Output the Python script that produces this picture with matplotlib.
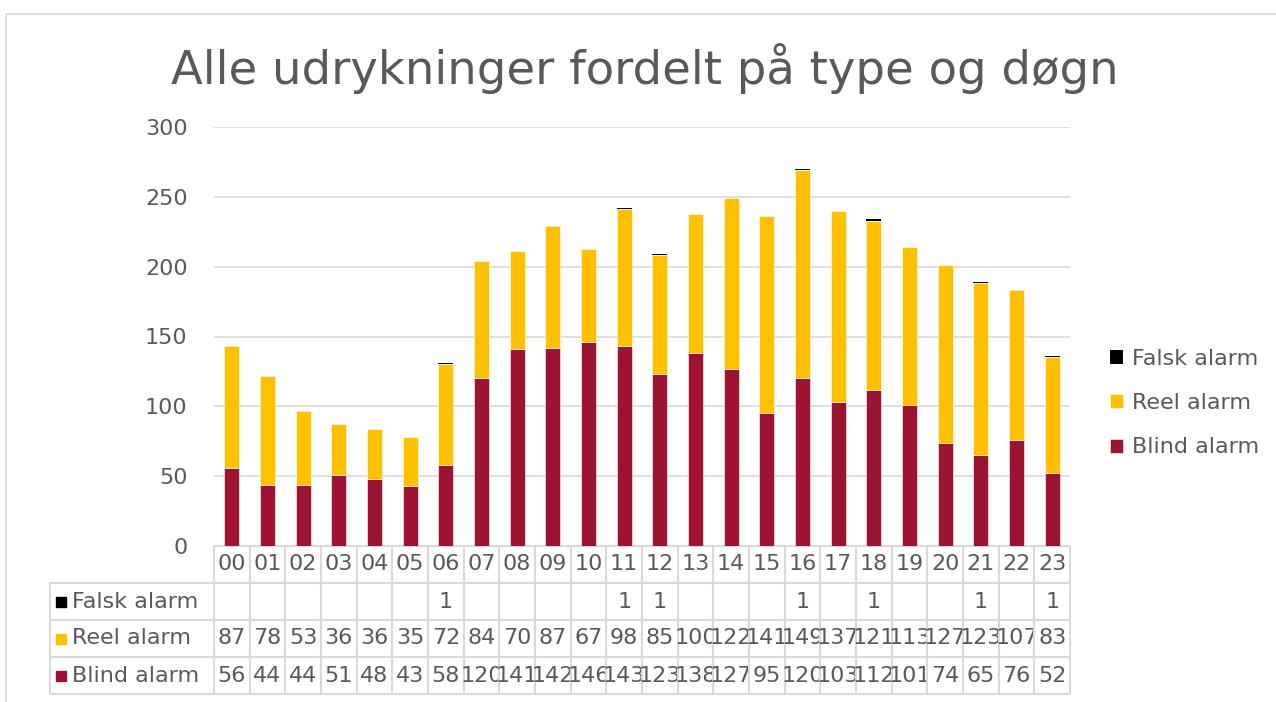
import numpy as np
import matplotlib.pyplot as plt
from matplotlib.patches import Rectangle

# data
hours = ["00", "01", "02", "03", "04", "05", "06", "07", "08", "09", "10", "11",
         "12", "13", "14", "15", "16", "17", "18", "19", "20", "21", "22", "23"]
blind = [56, 44, 44, 51, 48, 43, 58, 120, 141, 142, 146, 143,
         123, 138, 127, 95, 120, 103, 112, 101, 74, 65, 76, 52]
reel = [87, 78, 53, 36, 36, 35, 72, 84, 70, 87, 67, 98,
        85, 100, 122, 141, 149, 137, 121, 113, 127, 123, 107, 83]
falsk = [0, 0, 0, 0, 0, 0, 1, 0, 0, 0, 0, 1,
         1, 0, 0, 0, 1, 0, 1, 0, 0, 1, 0, 1]
series_names = ["Falsk alarm", "Reel alarm", "Blind alarm"]

c_blind = "#9C1431"
c_reel = "#FFC000"
c_falsk = "#000000"
txt = "#595959"
grid = "#D9D9D9"

plt.rcParams['font.family'] = ['DejaVu Sans']

W, H = 1276, 702
fig = plt.figure(figsize=(W / 100, H / 100), dpi=100)

# plot area in pixels
left, right, bottom, top = 214, 1070, 546, 127
ax = fig.add_axes([left / W, 1 - bottom / H, (right - left) / W, (bottom - top) / H])

x = np.arange(len(hours))
blind_a = np.array(blind)
reel_a = np.array(reel)
falsk_a = np.array(falsk)
bw = 0.42
ax.bar(x, blind_a, bw, color=c_blind, edgecolor="white", linewidth=0.4, label="Blind alarm", zorder=3)
ax.bar(x, reel_a, bw, bottom=blind_a, color=c_reel, edgecolor="white", linewidth=0.4, label="Reel alarm", zorder=3)
ax.bar(x, falsk_a, bw, bottom=blind_a + reel_a, color=c_falsk, linewidth=0, label="Falsk alarm", zorder=3)

ax.set_xlim(-0.5, len(hours) - 0.5)
ax.set_ylim(0, 300)
ax.set_yticks(range(0, 301, 50))
ax.tick_params(axis='y', length=0, pad=19, labelsize=16, labelcolor=txt)
ax.tick_params(axis='x', length=0, labelbottom=False)
ax.grid(axis='y', color=grid, linewidth=1.2, zorder=0)
for s in ax.spines.values():
    s.set_visible(False)

# data table under the plot
cell_text = []
for name, vals in zip(series_names, [falsk, reel, blind]):
    row = [name]
    for v in vals:
        row.append(str(v) if v else "")
    cell_text.append(row)

tab_left, tab_bottom = 50, 694
col_w = [164] + [(right - left) / len(hours)] * len(hours)
bbox = [(tab_left - left) / (right - left), -(tab_bottom - bottom) / (bottom - top),
        (right - tab_left) / (right - left), (tab_bottom - bottom) / (bottom - top)]
tab = ax.table(cellText=cell_text, colLabels=[""] + hours, colWidths=col_w,
               cellLoc='center', bbox=bbox)
tab.auto_set_font_size(False)
for (r, c), cell in tab.get_celld().items():
    cell.set_edgecolor(grid)
    cell.set_linewidth(1.5)
    cell.get_text().set_color(txt)
    cell.get_text().set_fontsize(16)
    if r == 0 and c == 0:
        cell.visible_edges = ''
    if c == 0 and r > 0:
        cell._loc = 'left'
        cell.PAD = 22 / 164
        cell.get_text().set_ha('left')

# colour keys in the row labels
row_h = (tab_bottom - bottom) / 4
for i, col in enumerate([c_falsk, c_reel, c_blind]):
    yc = bottom + row_h * (i + 1.5)
    fig.patches.append(Rectangle((56 / W, 1 - (yc + 5) / H), 10 / W, 10 / H,
                                 transform=fig.transFigure, color=col))

# legend on the right
h, l = ax.get_legend_handles_labels()
fig.legend(h[::-1], l[::-1], loc='center left', bbox_to_anchor=(1090 / W, 1 - 403 / H),
           frameon=False, fontsize=16, labelcolor=txt, handlelength=0.6, handleheight=0.6,
           handletextpad=0.4, labelspacing=1.1)

fig.text(645 / W, 1 - 84 / H, "Alle udrykninger fordelt på type og døgn",
         ha='center', va='baseline', fontsize=33.5, color=txt)

# thin chart border
fig.patches.append(Rectangle((6 / W, -0.01), 1.1, 1 - 14 / H + 0.01, transform=fig.transFigure,
                             fill=False, edgecolor=grid, linewidth=1.2))

fig.savefig("out.png", dpi=100, facecolor="white")
